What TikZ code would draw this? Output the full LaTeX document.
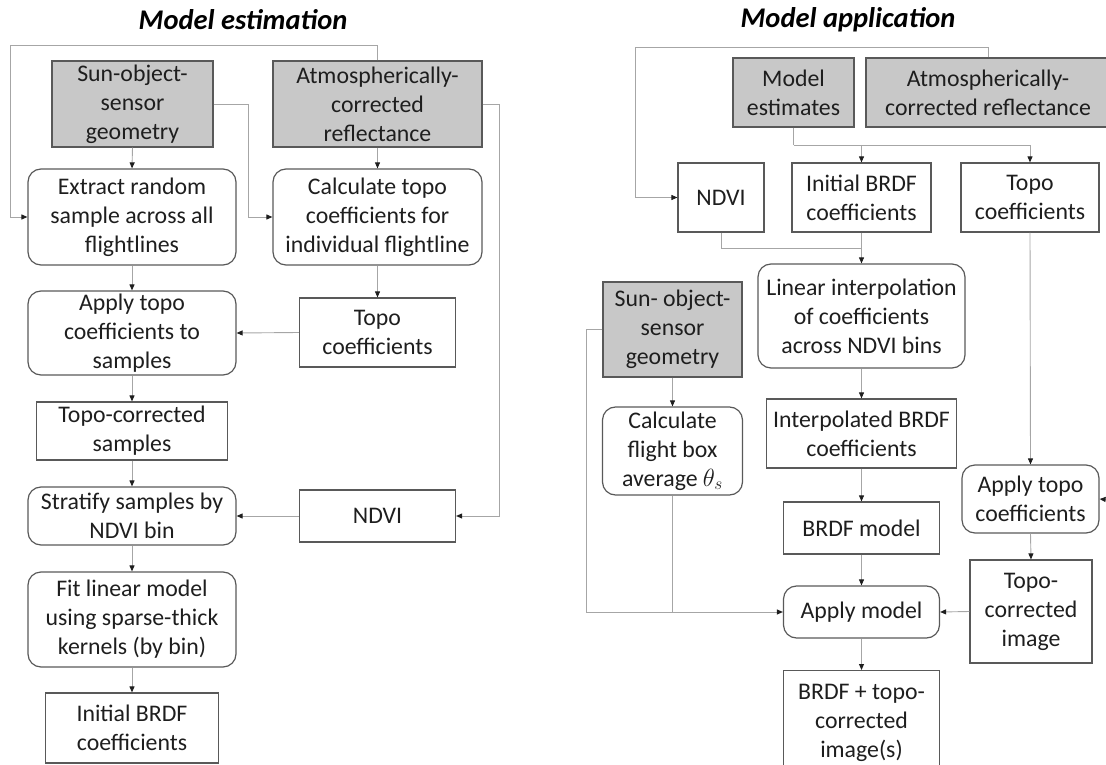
\documentclass[tikz,border=0pt]{standalone}
\usepackage{fontspec}
\setmainfont{Carlito}
\usetikzlibrary{arrows.meta}
\definecolor{boxline}{HTML}{595959}
\definecolor{inputfill}{HTML}{C8C8C8}
\definecolor{wire}{HTML}{A6A6A6}
\definecolor{ink}{HTML}{1E1E1E}
\tikzset{
  base/.style={draw=boxline, line width=1.2pt, align=center, inner sep=0pt,
    text=ink, font=\fontsize{23.8}{29}\selectfont},
  plain/.style={base},
  soft/.style={base, rounded corners=13pt},
  input/.style={base, fill=inputfill},
  sz/.style 2 args={minimum width=#1pt, minimum height=#2pt},
  conn/.style={draw=wire, line width=0.9pt},
  arr/.style={conn, -{Triangle[length=6pt,width=5pt,color=ink]}},
  heading/.style={text=black, font=\fontsize{28.5}{33}\selectfont\bfseries\itshape}
}
\begin{document}
\begin{tikzpicture}[x=1pt, y={(0pt,-1pt)}]
\useasboundingbox (0,0) rectangle (1106,765);

% ---------------- Model estimation ----------------
\node[heading] (t1) at (243,20) {Model estimation};

\node[input, sz={161}{86}] (sun1) at (132.5,104) {Sun-object-\\sensor\\geometry};
\node[input, sz={209}{86}] (atm1) at (377.5,104) {Atmospherically-\\corrected\\reflectance};
\node[soft, sz={208}{96}] (ext) at (132,217) {Extract random\\sample across all\\flightlines};
\node[soft, sz={209}{96}] (calc) at (377.5,217) {Calculate topo\\coefficients for\\individual flightline};
\node[soft, sz={208}{84}] (app1) at (132,333) {Apply topo\\coefficients to\\samples};
\node[plain, sz={156}{69}] (topo1) at (377.5,332.5) {Topo\\coefficients};
\node[plain, sz={191}{58}] (tcs) at (132,431) {Topo-corrected\\samples};
\node[soft, sz={208}{58}] (strat) at (132,516) {Stratify samples by\\NDVI bin};
\node[plain, sz={156}{52}] (ndvi1) at (377.5,516) {NDVI};
\node[soft, sz={208}{95}] (fit) at (132,619.5) {Fit linear model\\using sparse-thick\\kernels (by bin)};
\node[plain, sz={173}{70}] (ibrdf1) at (132,728) {Initial BRDF\\coefficients};

\coordinate (fbL) at (10,45);
\coordinate (k1) at (248,217);
\coordinate (k2) at (499,516);

\draw[arr] (atm1.north) |- (fbL) |- (ext.west);
\draw[arr] (sun1.east) -| (k1) -- (calc.west);
\draw[arr] (atm1.east) -| (k2) -- (ndvi1.east);
\draw[arr] (sun1.south) -- (ext.north);
\draw[arr] (atm1.south) -- (calc.north);
\draw[arr] (ext.south) -- (app1.north);
\draw[arr] (calc.south) -- (topo1.north);
\draw[arr] (topo1.west) -- (app1.east);
\draw[arr] (app1.south) -- (tcs.north);
\draw[arr] (tcs.south) -- (strat.north);
\draw[arr] (ndvi1.west) -- (strat.east);
\draw[arr] (strat.south) -- (fit.north);
\draw[arr] (fit.south) -- (ibrdf1.north);

% ---------------- Model application ----------------
\node[heading] (t2) at (848,20) {Model application};

\node[input, sz={121}{69}] (me) at (793.5,92.5) {Model\\estimates};
\node[input, sz={244}{69}] (atm2) at (988,92.5) {Atmospherically-\\corrected reflectance};
\node[plain, sz={86}{69}] (ndvi2) at (721,197.5) {NDVI};
\node[plain, sz={139}{69}] (ibrdf2) at (861.5,197.5) {Initial BRDF\\coefficients};
\node[plain, sz={138}{69}] (topo2) at (1030,197.5) {Topo\\coefficients};
\node[soft, sz={207}{104}] (lin) at (861.5,316) {Linear interpolation\\of coefficients\\across NDVI bins};
\node[input, sz={139}{95}] (sun2) at (672.5,329.5) {Sun- object-\\sensor\\geometry};
\node[soft, sz={140}{88}] (cfb) at (672.5,451) {Calculate\\flight box\\average $\theta_s$};
\node[plain, sz={190}{69}] (interp) at (861.5,433.5) {Interpolated BRDF\\coefficients};
\node[soft, sz={137}{68}] (apt) at (1030.5,499) {Apply topo\\coefficients};
\node[plain, sz={156}{52}] (brdfm) at (861.5,528) {BRDF model};
\node[soft, sz={156}{52}] (apm) at (861.5,612) {Apply model};
\node[plain, sz={122}{103}] (tci) at (1031,611.5) {Topo-\\corrected\\image};
\node[plain, sz={156}{104}, anchor=north] (out) at (861.5,670) {BRDF + topo-\\corrected\\image(s)};

\coordinate (fbR) at (635,47);
\coordinate (bus) at (793.5,145);
\coordinate (j2) at (861.5,248);
\coordinate (l2) at (586,612);
\coordinate (side) at (1112,500);

\draw[arr] (atm2.north) |- (fbR) |- (ndvi2.west);
\draw[conn] (me.south) -- (bus);
\draw[arr] (bus) -| (topo2.north);
\draw[arr] (ibrdf2.north |- bus) -- (ibrdf2.north);
\draw[conn] (ndvi2.south) |- (j2);
\draw[arr] (ibrdf2.south) -- (lin.north);
\draw[arr] (lin.south) -- (interp.north);
\draw[arr] (interp.south) -- (brdfm.north);
\draw[arr] (brdfm.south) -- (apm.north);
\draw[arr] (apm.south) -- (out.north);
\draw[arr] (topo2.south) -- (apt.north);
\draw[arr] (apt.south) -- (tci.north);
\draw[arr] (tci.west) -- (apm.east);
\draw[arr] (sun2.south) -- (cfb.north);
\draw[arr] (sun2.west) -| (l2) -- (apm.west);
\draw[conn] (cfb.south) -- (cfb.south |- apm.west);
\draw[arr] (side) -- (apt.east);
\end{tikzpicture}
\end{document}
